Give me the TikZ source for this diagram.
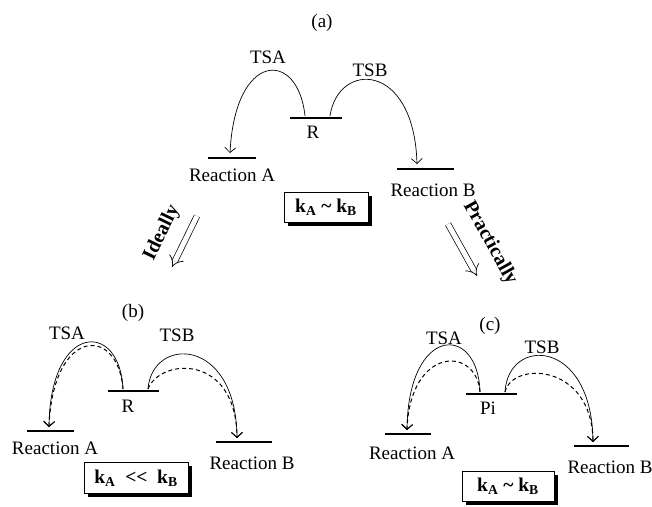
\documentclass[tikz,border=0pt]{standalone}
\usepackage{fontspec}
\setmainfont{Liberation Serif}
\usetikzlibrary{arrows.meta,shadows}

\begin{document}
\begin{tikzpicture}[x=1pt, y=-1pt, >={Straight Barb[length=5pt,width=11pt]},
    lvl/.style={line width=2.6pt},
    way/.style={->, line width=0.7pt},
    alt/.style={->, line width=1pt, dash pattern=on 4pt off 3pt},
    lbl/.style={font=\fontsize{19}{21}\selectfont, inner sep=0pt},
    tag/.style={font=\fontsize{20}{22}\selectfont\bfseries, inner sep=0pt},
    rate/.style={draw, line width=0.9pt, fill=white, inner sep=0pt,
      font=\fontsize{19.5}{21}\selectfont\bfseries,
      drop shadow={shadow xshift=3.5pt, shadow yshift=-3.5pt, fill=black, opacity=1}},
    move/.style={double, double distance=5pt, line width=0.7pt, -{Implies}}]
    \useasboundingbox (0,0) rectangle (652,506);

    % (a)
    \node[lbl] (ta) at (322,23) {(a)};
    \draw[lvl] (290,118) -- (342,118);
    \draw[lvl] (208,158) -- (256,158);
    \draw[lvl] (397,169) -- (454,169);
    \coordinate (aRa) at (305,116);
    \coordinate (aRb) at (330,116);
    \coordinate (aA) at (230,153);
    \coordinate (aB) at (417,164);
    \draw[way] (aRa) .. controls +(-7,-67) and +(5,-102) .. (aA);
    \draw[way] (aRb) .. controls +(8,-55) and +(-3,-103) .. (aB);
    \node[lbl] (aTSA) at (268,57) {TSA};
    \node[lbl] (aTSB) at (370,70) {TSB};
    \node[lbl] (aR) at (313,132) {R};
    \node[lbl] (aRA) at (232,175) {Reaction A};
    \node[lbl] (aRB) at (433,190) {Reaction B};
    \node[rate, minimum width=84pt, minimum height=30pt] (ak) at (326,207)
      {k\textsubscript{A} \textasciitilde{} k\textsubscript{B}};

    % the two ways
    \coordinate (ideal0) at (197,216);
    \coordinate (ideal1) at (172,267);
    \draw[move] (ideal0) -- (ideal1);
    \node[tag, rotate=64] (ideal) at (162,233) {Ideally};
    \coordinate (pract0) at (448,224);
    \coordinate (pract1) at (477,276);
    \draw[move] (pract0) -- (pract1);
    \node[tag, rotate=-61] (pract) at (490,243) {Practically};

    % (b)
    \node[lbl] (tb) at (133,313) {(b)};
    \draw[lvl] (108,391) -- (159,391);
    \draw[lvl] (27,431) -- (74,431);
    \draw[lvl] (216,442) -- (272,442);
    \coordinate (bRa) at (123,389);
    \coordinate (bRb) at (148,389);
    \coordinate (bA) at (49,427);
    \coordinate (bB) at (237,438);
    \draw[way] (bRa) .. controls +(-3,-69) and +(1,-105) .. (bA);
    \draw[alt] (bRa) .. controls +(-5,-64) and +(4,-100) .. (bA);
    \draw[way] (bRb) .. controls +(4,-53) and +(-1,-102) .. (bB);
    \draw[alt] (bRb) .. controls +(12,-31) and +(-1,-85) .. (bB);
    \node[lbl] (bTSA) at (67,333) {TSA};
    \node[lbl] (bTSB) at (177,335) {TSB};
    \node[lbl] (bR) at (128,406) {R};
    \node[lbl] (bRA) at (55,448) {Reaction A};
    \node[lbl] (bRB) at (252,463) {Reaction B};
    \node[rate, minimum width=104pt, minimum height=31pt] (bk) at (136,478)
      {k\textsubscript{A} \ <\kern0pt< \ k\textsubscript{B}};

    % (c)
    \node[lbl] (tc) at (490,326) {(c)};
    \draw[lvl] (466,394) -- (517,394);
    \draw[lvl] (385,434) -- (431,434);
    \draw[lvl] (574,446) -- (629,446);
    \coordinate (cPa) at (480,392);
    \coordinate (cPb) at (505,392);
    \coordinate (cA) at (407,430);
    \coordinate (cB) at (593,442);
    \draw[way] (cPa) .. controls +(-2,-69) and +(1,-105) .. (cA);
    \draw[alt] (cPa) .. controls +(-4,-47) and +(3,-83) .. (cA);
    \draw[way] (cPb) .. controls +(3,-56) and +(-1,-104) .. (cB);
    \draw[alt] (cPb) .. controls +(7,-31) and +(-1,-79) .. (cB);
    \node[lbl] (cTSA) at (444,338) {TSA};
    \node[lbl] (cTSB) at (542,347) {TSB};
    \node[lbl] (cP) at (488,408) {Pi};
    \node[lbl] (cRA) at (412,453) {Reaction A};
    \node[lbl] (cRB) at (610,467) {Reaction B};
    \node[rate, minimum width=92pt, minimum height=30pt] (ck) at (508,486)
      {k\textsubscript{A} \textasciitilde{} k\textsubscript{B}};
\end{tikzpicture}
\end{document}
